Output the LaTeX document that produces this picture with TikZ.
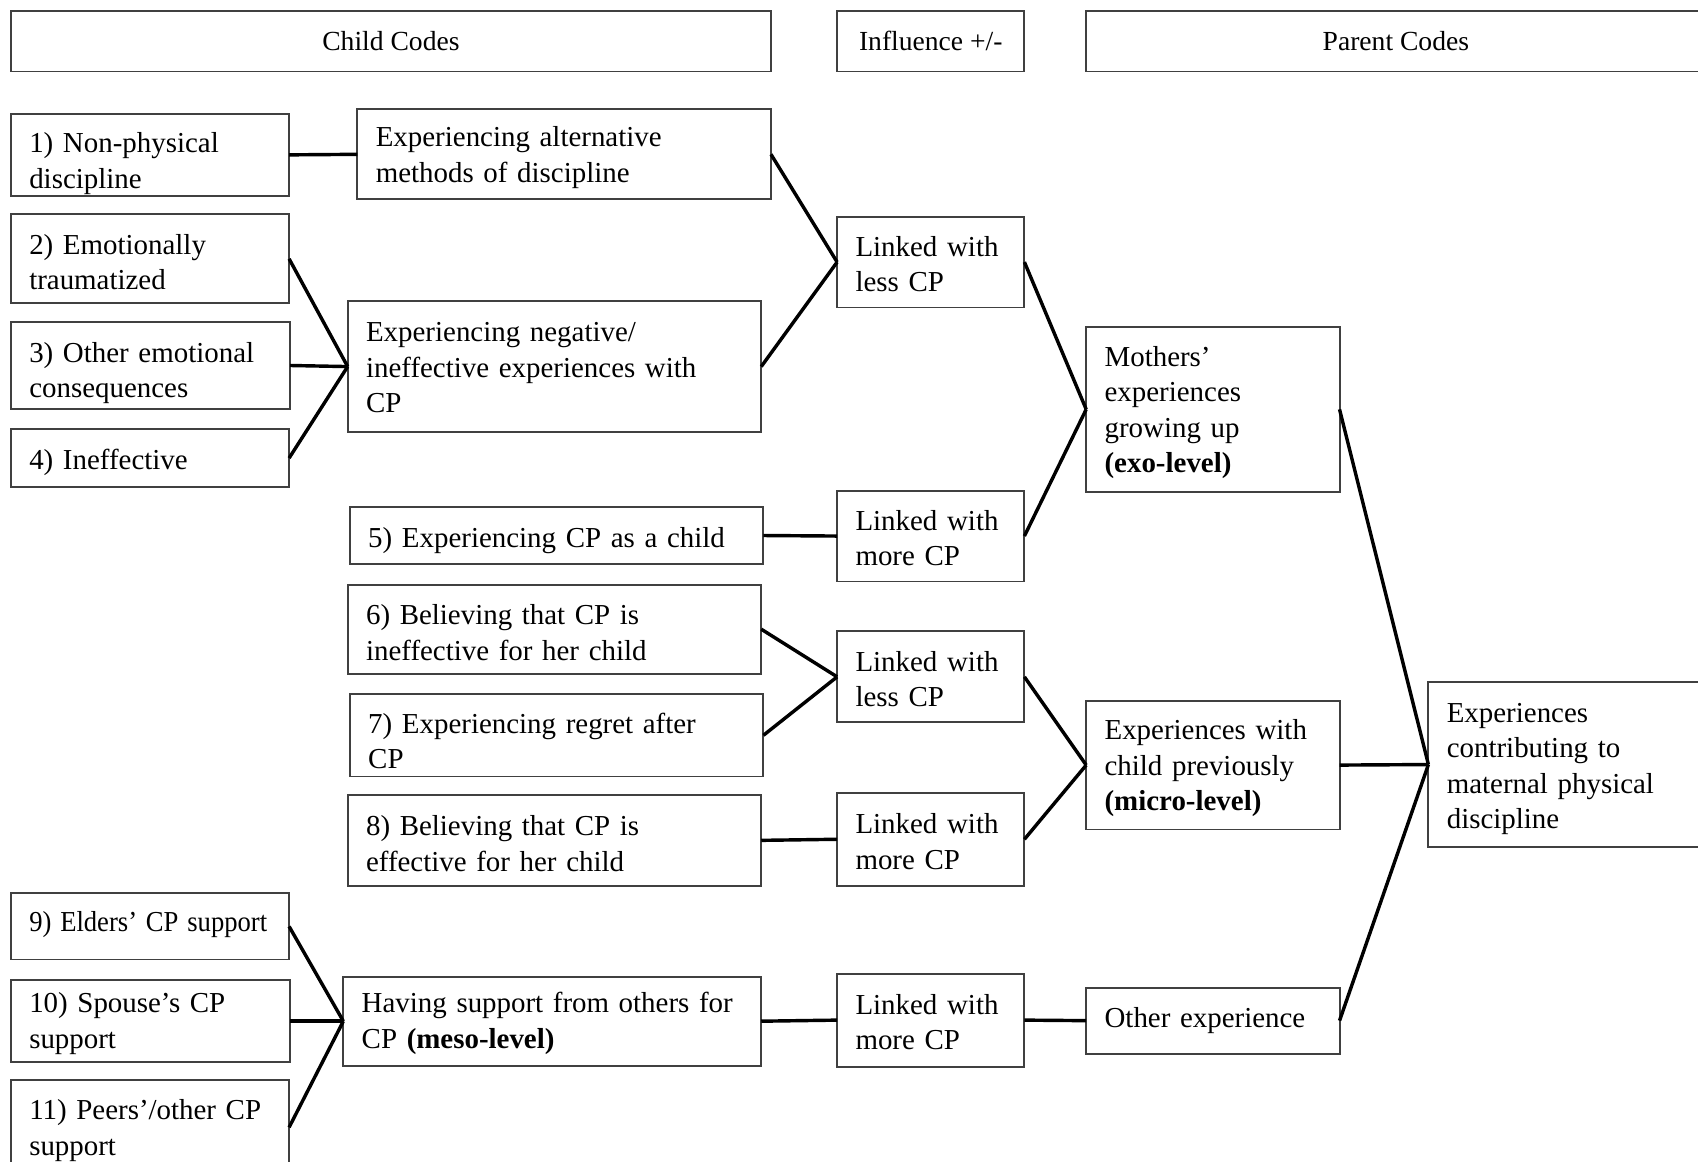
\documentclass[tikz,border=0pt]{standalone}
\usepackage{fontspec}
\setmainfont{Liberation Serif}
\hyphenpenalty=10000
\exhyphenpenalty=10000
\begin{document}
\begin{tikzpicture}[x=0.02cm,y=-0.02cm,
  bx/.style={draw=black!75, line width=1pt, rectangle, inner sep=0pt, outer sep=0pt},
  tx/.style={align=left, inner xsep=3.4mm, inner ysep=0pt, outer sep=0pt,
    font=\fontsize{15.2}{18.6}\selectfont},
  hd/.style={draw=black!75, line width=1pt, rectangle, align=center, inner sep=0pt, outer sep=0pt,
    font=\fontsize{14.5}{17}\selectfont},
  cn/.style={line width=1.8pt, black}]
\clip (0,0) rectangle (1568,1073);
\fill[white] (0,0) rectangle (1568,1073);
\newcommand{\mybox}[7][4]{%
  \pgfmathsetmacro{\mybw}{(#5-#3)*0.2}%
  \pgfmathsetmacro{\mybh}{(#6-#4)*0.2}%
  \pgfmathsetmacro{\mytw}{(#5-#3)*0.2-6.8}%
  \node[bx, minimum width=\mybw mm, minimum height=\mybh mm] (#2) at ({(#3+#5)/2},{(#4+#6)/2}) {};
  \node[tx, text width=\mytw mm] (#2-t) at ({(#3+#5)/2},{(#4+#6)/2+#1}) {#7};}
\newcommand{\myhead}[6]{%
  \pgfmathsetmacro{\mybw}{(#4-#2)*0.2}%
  \pgfmathsetmacro{\mybh}{(#5-#3)*0.2}%
  \node[hd, minimum width=\mybw mm, minimum height=\mybh mm] (#1) at ({(#2+#4)/2},{(#3+#5)/2}) {#6};}
% headers
\myhead{hchild}{10}{10}{712}{66}{Child Codes}
\myhead{hinfl}{773}{10}{946}{66}{Influence +/-}
\myhead{hparent}{1003}{10}{1575}{66}{Parent Codes}
% child codes
\mybox[8]{c1}{10}{105}{267}{181}{1) Non-physical\\discipline}
\mybox[3]{c2}{10}{198}{267}{280}{2) Emotionally\\traumatized}
\mybox[7]{c3}{10}{297}{268}{378}{3) Other emotional\\consequences}
\mybox[4]{c4}{10}{396}{267}{450}{4) Ineffective}
\mybox[3]{alt}{330}{101}{712}{184}{Experiencing alternative\\methods of discipline}
\mybox[1]{neg}{321}{278}{703}{399}{Experiencing negative/\\ineffective experiences with\\CP}
\mybox[5]{c5}{323}{468}{705}{521}{5) Experiencing CP as a child}
\mybox[3]{c6}{321}{540}{703}{622}{6) Believing that CP is\\ineffective for her child}
\mybox[5]{c7}{323}{641}{705}{717}{7) Experiencing regret after\\CP}
\mybox[3]{c8}{321}{734}{703}{818}{8) Believing that CP is\\effective for her child}
\mybox[-2]{c9}{10}{825}{267}{886}{\scalebox{0.92}[1]{9) Elders' CP support}}
\mybox[2]{c10}{10}{905}{268}{981}{10) Spouse's CP\\support}
\mybox[3]{c11}{10}{997}{267}{1085}{11) Peers'/other CP\\support}
\mybox[2]{sup}{317}{902}{703}{984}{Having support from others for\\CP \textbf{(meso-level)}}
% influence
\mybox[2]{l1}{773}{200}{946}{284}{Linked with\\less CP}
\mybox[2]{m1}{773}{453}{946}{537}{Linked with\\more CP}
\mybox[2]{l2}{773}{583}{946}{667}{Linked with\\less CP}
\mybox[2]{m2}{773}{732}{946}{818}{Linked with\\more CP}
\mybox[2]{m3}{773}{899}{946}{985}{Linked with\\more CP}
% parent codes
\mybox[3]{moth}{1003}{302}{1237}{454}{Mothers'\\experiences\\growing up\\\textbf{(exo-level)}}
\mybox[3]{chp}{1003}{647}{1237}{766}{Experiences with\\child previously\\\textbf{(micro-level)}}
\mybox[0]{oth}{1003}{912}{1237}{973}{Other experience}
\mybox[4]{fin}{1319}{630}{1620}{782}{Experiences\\contributing to\\maternal physical\\discipline}
% connectors
\draw[cn] (c1.east) -- (alt.west);
\draw[cn] (c2.east) -- (neg.west);
\draw[cn] (c3.east) -- (neg.west);
\draw[cn] (c4.east) -- (neg.west);
\draw[cn] (alt.east) -- (l1.west);
\draw[cn] (neg.east) -- (l1.west);
\draw[cn] (c5.east) -- (m1.west);
\draw[cn] (c6.east) -- (l2.west);
\draw[cn] (c7.east) -- (l2.west);
\draw[cn] (c8.east) -- (m2.west);
\draw[cn] (c9.east) -- (sup.west);
\draw[cn] (c10.east) -- (sup.west);
\draw[cn] (c11.east) -- (sup.west);
\draw[cn] (sup.east) -- (m3.west);
\draw[cn] (l1.east) -- (moth.west);
\draw[cn] (m1.east) -- (moth.west);
\draw[cn] (l2.east) -- (chp.west);
\draw[cn] (m2.east) -- (chp.west);
\draw[cn] (m3.east) -- (oth.west);
\draw[cn] (moth.east) -- (fin.west);
\draw[cn] (chp.east) -- (fin.west);
\draw[cn] (oth.east) -- (fin.west);
\end{tikzpicture}
\end{document}
